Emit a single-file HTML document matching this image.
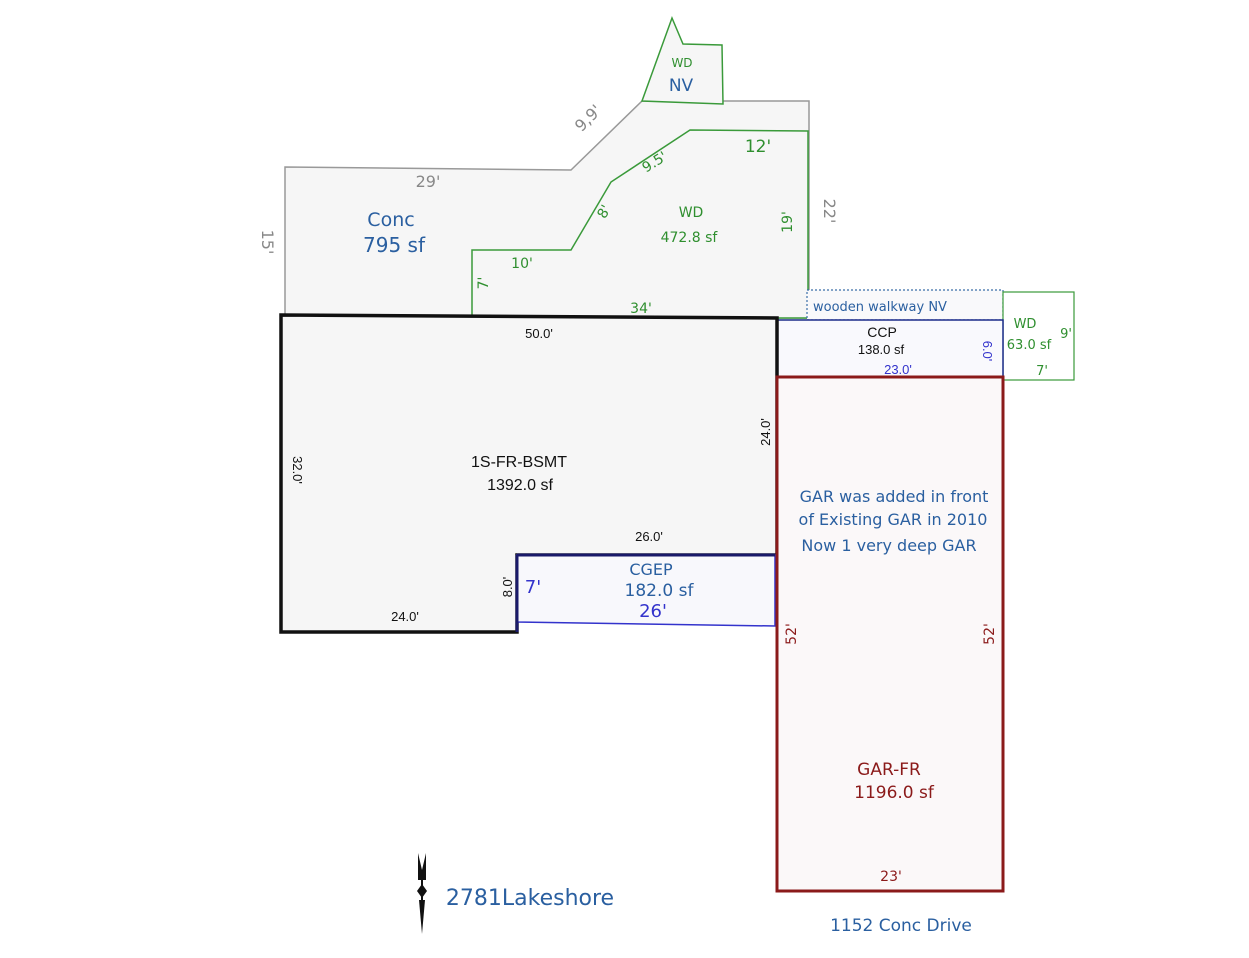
<!DOCTYPE html>
<html><head><style>
body{margin:0;background:#fff;}
svg{display:block;font-family:"DejaVu Sans","Liberation Sans",sans-serif;}
</style></head><body>
<svg width="1249" height="958" viewBox="0 0 1249 958">
<!-- Conc -->
<polygon points="285,167 571,170 642,101 809,101 809,318 285,318" fill="#f6f6f6" stroke="#999" stroke-width="1.5"/>
<!-- WD NV -->
<polygon points="642,101 672,18 683,44 722,45 723,104" fill="#f6f6f6" stroke="#3a9a3a" stroke-width="1.5"/>
<!-- WD deck -->
<polygon points="472,250 571,250 611,182 690,130 808,131 808,318 472,318" fill="#f6f6f6" stroke="#3a9a3a" stroke-width="1.5"/>
<!-- walkway -->
<rect x="807" y="290" width="196" height="30" fill="#f9f9fb" stroke="#3a6ea8" stroke-width="1.2" stroke-dasharray="2,2"/>
<!-- WD small -->
<rect x="1003" y="292" width="71" height="88" fill="#fff" stroke="#3a9a3a" stroke-width="1.2"/>
<!-- CCP -->
<rect x="777" y="320" width="226" height="57" fill="#f9f9fd" stroke="#1a2a8a" stroke-width="1.5"/>
<!-- House -->
<polygon points="281,315 777,318 777,555 517,555 517,632 281,632" fill="#f6f6f6" stroke="#111" stroke-width="3.5"/>
<!-- CGEP -->
<polygon points="517,555 775,555 775,626 517,622" fill="#f8f8fc" stroke="#3333cc" stroke-width="1.5"/>
<line x1="517" y1="555" x2="775" y2="555" stroke="#1a1a6a" stroke-width="3"/>
<line x1="517" y1="555" x2="517" y2="632" stroke="#1a1a6a" stroke-width="3"/>
<!-- GAR -->
<rect x="777" y="377" width="226" height="514" fill="#fbf8f9" stroke="#8b1a1a" stroke-width="3"/>

<g font-size="16" fill="#888">
<text x="428" y="187" text-anchor="middle">29'</text>
<text transform="translate(262,242) rotate(90)" text-anchor="middle">15'</text>
<text transform="translate(592,122) rotate(-45)" text-anchor="middle">9,9'</text>
<text transform="translate(824,211) rotate(90)" text-anchor="middle">22'</text>
</g>
<g fill="#2a5fa0" text-anchor="middle">
<text x="391" y="226" font-size="19">Conc</text>
<text x="394" y="252" font-size="20">795 sf</text>
<text x="681" y="91" font-size="17">NV</text>
</g>
<g fill="#2f8f2f" text-anchor="middle" font-size="14">
<text x="682" y="67" font-size="12">WD</text>
<text x="691" y="217">WD</text>
<text x="689" y="242">472.8 sf</text>
<text x="758" y="152" font-size="17">12'</text>
<text x="522" y="268">10'</text>
<text x="641" y="313">34'</text>
<text transform="translate(657,166) rotate(-32)">9.5'</text>
<text transform="translate(608,214) rotate(-60)">8'</text>
<text transform="translate(488,283) rotate(-90)">7'</text>
<text transform="translate(792,222) rotate(-90)">19'</text>
<text x="1025" y="328" font-size="13">WD</text>
<text x="1029" y="349" font-size="13">63.0 sf</text>
<text x="1066" y="338" font-size="13">9'</text>
<text x="1042" y="375" font-size="13">7'</text>
</g>
<text x="813" y="311" font-size="13" fill="#2a5fa0">wooden walkway NV</text>
<g font-family="Liberation Sans, sans-serif" fill="#111" text-anchor="middle" font-size="13">
<text x="882" y="337" font-size="14">CCP</text>
<text x="881" y="354">138.0 sf</text>
<text x="539" y="338">50.0'</text>
<text x="519" y="467" font-size="16">1S-FR-BSMT</text>
<text x="520" y="490" font-size="16">1392.0 sf</text>
<text x="649" y="541">26.0'</text>
<text x="405" y="621">24.0'</text>
<text transform="translate(293,470) rotate(90)">32.0'</text>
<text transform="translate(770,432) rotate(-90)">24.0'</text>
<text transform="translate(512,587) rotate(-90)">8.0'</text>
</g>
<g font-family="Liberation Sans, sans-serif" fill="#3333cc" text-anchor="middle" font-size="13">
<text x="898" y="374">23.0'</text>
<text transform="translate(983,351) rotate(90)">6.0'</text>
</g>
<g fill="#2a5fa0" text-anchor="middle">
<text x="651" y="575" font-size="16">CGEP</text>
<text x="659" y="596" font-size="17">182.0 sf</text>
<text x="653" y="617" font-size="18" fill="#3333cc">26'</text>
<text x="533" y="593" font-size="18" fill="#3333cc">7'</text>
<text x="894" y="502" font-size="16">GAR was added in front</text>
<text x="893" y="525" font-size="16">of Existing GAR in 2010</text>
<text x="889" y="551" font-size="16">Now 1 very deep GAR</text>
<text x="901" y="931" font-size="17">1152 Conc Drive</text>
<text x="530" y="905" font-size="22">2781Lakeshore</text>
</g>
<g fill="#8b1a1a" text-anchor="middle" font-size="14">
<text x="889" y="775" font-size="17">GAR-FR</text>
<text x="894" y="798" font-size="17">1196.0 sf</text>
<text x="891" y="881">23'</text>
<text transform="translate(796,634) rotate(-90)">52'</text>
<text transform="translate(994,634) rotate(-90)">52'</text>
</g>
<!-- north arrow -->
<g fill="#111">
<polygon points="418,853 422,870 426,853 426,880 418,880"/>
<polygon points="422,884 427,891 422,898 417,891"/>
<polygon points="419,900 425,900 422,934"/>
<rect x="421" y="878" width="2" height="25"/>
</g>
</svg>
</body></html>
